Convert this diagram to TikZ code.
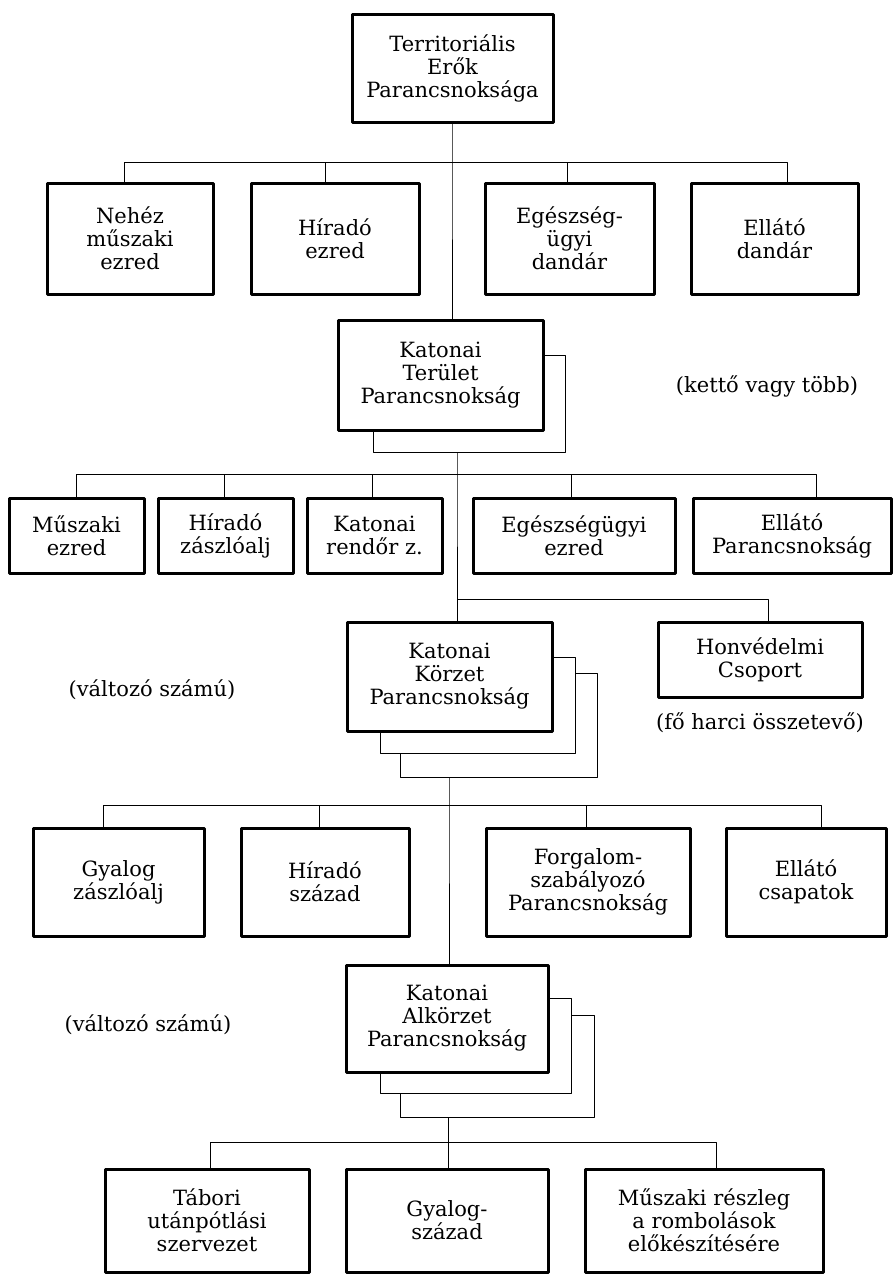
\documentclass[tikz,border=0pt]{standalone}
\usepackage{fontspec}
\setmainfont{DejaVu Serif}
\tikzset{
  unit/.style={draw, line width=3pt, fill=white, align=center, inner sep=0pt,
    font=\fontsize{21}{23}\selectfont},
  stack/.style={draw, line width=0.9pt, fill=white, inner sep=0pt},
  link/.style={line width=0.9pt},
  note/.style={font=\fontsize{21}{23}\selectfont}
}
\begin{document}
\begin{tikzpicture}[x=1pt,y=-1pt,line join=round]
  \useasboundingbox (0,0) rectangle (893,1277);
  % level 0
  \node[unit, minimum width=201pt, minimum height=108pt] (top) at (452.5,68) {Territoriális\\Erők\\Parancsnoksága};
  % level 1
  \node[unit, minimum width=166pt, minimum height=111pt] (nehez) at (130,238.5) {Nehéz\\műszaki\\ezred};
  \node[unit, minimum width=168pt, minimum height=111pt] (hirado1) at (335,238.5) {Híradó\\ezred};
  \node[unit, minimum width=169pt, minimum height=111pt] (egeszseg1) at (569.5,238.5) {Egészség-\\ügyi\\dandár};
  \node[unit, minimum width=167pt, minimum height=111pt] (ellato1) at (774.5,238.5) {Ellátó\\dandár};
  % katonai terulet
  \node[stack, minimum width=192pt, minimum height=97pt] (ktpsh) at (469,403.5) {};
  \node[unit, minimum width=205pt, minimum height=110pt] (ktp) at (440.5,375) {Katonai\\Terület\\Parancsnokság};
  \node[note] (tobb) at (767,386) {(kettő vagy több)};
  % level 2
  \node[unit, minimum width=135pt, minimum height=75pt] (muszaki2) at (76.5,535.5) {Műszaki\\ezred};
  \node[unit, minimum width=135pt, minimum height=75pt] (hirado2) at (225.5,535.5) {Híradó\\zászlóalj};
  \node[unit, minimum width=135pt, minimum height=75pt] (rendor) at (374.5,535.5) {Katonai\\rendőr z.};
  \node[unit, minimum width=202pt, minimum height=75pt] (egeszseg2) at (574,535.5) {Egészségügyi\\ezred};
  \node[unit, minimum width=198pt, minimum height=75pt] (ellato2) at (792,535.5) {Ellátó\\Parancsnokság};
  % katonai korzet
  \node[stack, minimum width=197pt, minimum height=104pt] (kkpsh2) at (498.5,725) {};
  \node[stack, minimum width=195pt, minimum height=96pt] (kkpsh1) at (477.5,705) {};
  \node[unit, minimum width=205pt, minimum height=109pt] (kkp) at (449.5,676.5) {Katonai\\Körzet\\Parancsnokság};
  \node[unit, minimum width=204pt, minimum height=75pt] (honved) at (760,659.5) {Honvédelmi\\Csoport};
  \node[note] (valtozo1) at (152,690) {(változó számú)};
  \node[note] (harci) at (760,723) {(fő harci összetevő)};
  % level 3
  \node[unit, minimum width=171pt, minimum height=108pt] (gyalog) at (118.5,882) {Gyalog\\zászlóalj};
  \node[unit, minimum width=168pt, minimum height=108pt] (hirado3) at (325,882) {Híradó\\század};
  \node[unit, minimum width=204pt, minimum height=108pt] (forgalom) at (588,882) {Forgalom-\\szabályozó\\Parancsnokság};
  \node[unit, minimum width=160pt, minimum height=108pt] (ellato3) at (806,882) {Ellátó\\csapatok};
  % katonai alkorzet
  \node[stack, minimum width=194pt, minimum height=102pt] (kapsh2) at (497,1066) {};
  \node[stack, minimum width=191pt, minimum height=95pt] (kapsh1) at (475.5,1045.5) {};
  \node[unit, minimum width=202pt, minimum height=107pt] (kap) at (447,1018.5) {Katonai\\Alkörzet\\Parancsnokság};
  \node[note] (valtozo2) at (148,1025) {(változó számú)};
  % level 4
  \node[unit, minimum width=204pt, minimum height=103pt] (tabori) at (207,1220.5) {Tábori\\utánpótlási\\szervezet};
  \node[unit, minimum width=202pt, minimum height=103pt] (gyalogszazad) at (447,1220.5) {Gyalog-\\század};
  \node[unit, minimum width=238pt, minimum height=103pt] (rombolas) at (704,1220.5) {Műszaki részleg\\a rombolások\\előkészítésére};
  % connectors
  \coordinate (bus1) at (452,162);
  \draw[link] (top.south -| bus1) -- (bus1) -- (ktp.north -| bus1);
  \foreach \n/\dx in {nehez/-6,hirado1/-10,egeszseg1/-2,ellato1/13}
    \draw[link] (bus1) -| ([xshift=\dx pt]\n.north);
  \coordinate (bus2) at (457,474);
  \coordinate (fork) at (457,599);
  \draw[link] (ktpsh.south -| bus2) -- (bus2) -- (kkp.north -| bus2);
  \foreach \n/\dx in {muszaki2/0,hirado2/-1,rendor/-2,egeszseg2/-3,ellato2/24}
    \draw[link] (bus2) -| ([xshift=\dx pt]\n.north);
  \draw[link] (fork) -| ([xshift=8pt]honved.north);
  \coordinate (bus3) at (449,805);
  \draw[link] (kkpsh2.south -| bus3) -- (bus3) -- (kap.north -| bus3);
  \foreach \n/\dx in {gyalog/-15,hirado3/-6,forgalom/-2,ellato3/15}
    \draw[link] (bus3) -| ([xshift=\dx pt]\n.north);
  \coordinate (bus4) at (448,1142);
  \draw[link] (kapsh2.south -| bus4) -- (bus4);
  \foreach \n/\dx in {tabori/3,gyalogszazad/1,rombolas/12}
    \draw[link] (bus4) -| ([xshift=\dx pt]\n.north);
\end{tikzpicture}
\end{document}
